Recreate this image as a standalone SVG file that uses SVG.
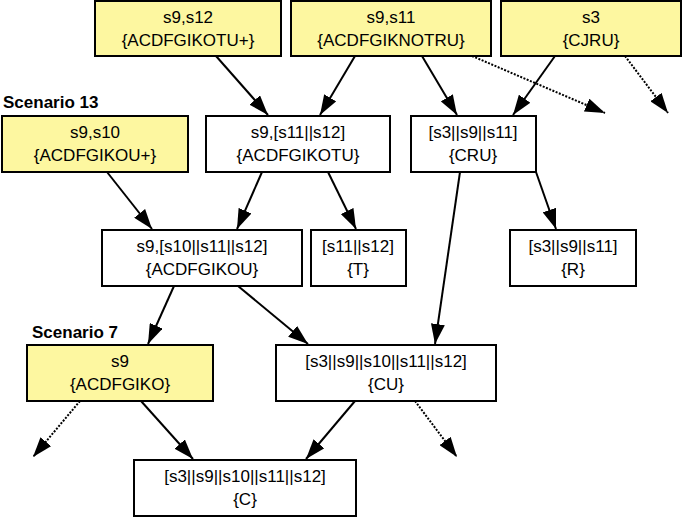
<svg xmlns="http://www.w3.org/2000/svg" width="684" height="518" viewBox="0 0 684 518">
<style>
.n{fill:#fff;stroke:#000;stroke-width:2}
.y{fill:#fdf7a0;stroke:#000;stroke-width:2}
text{font-family:"Liberation Sans",Arial,sans-serif;font-size:17px;text-anchor:middle}
.lb{font-weight:bold;text-anchor:start}
.e{stroke:#000;stroke-width:2;fill:none;marker-end:url(#a)}
.d{stroke-dasharray:2,1.5}
</style>
<defs><marker id="a" viewBox="0 0 10 10" refX="10" refY="5" markerWidth="10" markerHeight="10" markerUnits="userSpaceOnUse" orient="auto"><path d="M0,0 L10,5 L0,10z" transform="scale(1)"/></marker>
<marker id="b" viewBox="0 0 20 14" refX="20" refY="7" markerWidth="20" markerHeight="14" markerUnits="userSpaceOnUse" orient="auto"><path d="M0,0 L20,7 L0,14z"/></marker></defs>
<style>.e{marker-end:url(#b)}</style>
<text class="lb" x="3" y="108">Scenario 13</text>
<text class="lb" x="32" y="338">Scenario 7</text>
<g id="n1"><rect class="y" x="95" y="1" width="186" height="55"/><text x="188" y="23">s9,s12</text><text x="188" y="46">{ACDFGIKOTU+}</text></g>
<g id="n2"><rect class="y" x="291" y="1" width="200" height="55"/><text x="391" y="23">s9,s11</text><text x="391" y="46">{ACDFGIKNOTRU}</text></g>
<g id="n3"><rect class="y" x="501" y="1" width="180" height="55"/><text x="591" y="23">s3</text><text x="591" y="46">{CJRU}</text></g>
<g id="n4"><rect class="y" x="2" y="116" width="186" height="56"/><text x="95" y="138">s9,s10</text><text x="95" y="161">{ACDFGIKOU+}</text></g>
<g id="n5"><rect class="n" x="206" y="116" width="184" height="56"/><text x="298" y="138">s9,[s11||s12]</text><text x="298" y="161">{ACDFGIKOTU}</text></g>
<g id="n6"><rect class="n" x="411" y="116" width="125" height="56"/><text x="473" y="138">[s3||s9||s11]</text><text x="473" y="161">{CRU}</text></g>
<g id="n7"><rect class="n" x="102" y="230" width="200" height="56"/><text x="202" y="252">s9,[s10||s11||s12]</text><text x="202" y="275">{ACDFGIKOU}</text></g>
<g id="n8"><rect class="n" x="311" y="230" width="95" height="56"/><text x="358" y="252">[s11||s12]</text><text x="358" y="275">{T}</text></g>
<g id="n9"><rect class="n" x="510" y="230" width="126" height="56"/><text x="573" y="252">[s3||s9||s11]</text><text x="573" y="275">{R}</text></g>
<g id="n10"><rect class="y" x="27" y="345" width="186" height="56"/><text x="120" y="367">s9</text><text x="120" y="390">{ACDFGIKO}</text></g>
<g id="n11"><rect class="n" x="276" y="345" width="220" height="56"/><text x="386" y="367">[s3||s9||s10||s11||s12]</text><text x="386" y="390">{CU}</text></g>
<g id="n12"><rect class="n" x="134" y="460" width="222" height="56"/><text x="245" y="482">[s3||s9||s10||s11||s12]</text><text x="245" y="505">{C}</text></g>
<g id="edges">
<line class="e" x1="216" y1="56" x2="268" y2="115"/>
<line class="e" x1="355" y1="56" x2="320" y2="115"/>
<line class="e" x1="422" y1="56" x2="457" y2="115"/>
<line class="e" x1="555" y1="56" x2="513" y2="115"/>
<line class="e d" x1="472" y1="56" x2="605" y2="113"/>
<line class="e d" x1="625" y1="56" x2="668" y2="113"/>
<line class="e" x1="107" y1="172" x2="152" y2="229"/>
<line class="e" x1="262" y1="172" x2="237" y2="229"/>
<line class="e" x1="328" y1="172" x2="356" y2="229"/>
<line class="e" x1="460" y1="172" x2="435" y2="344"/>
<line class="e" x1="536" y1="172" x2="556" y2="229"/>
<line class="e" x1="174" y1="286" x2="148" y2="344"/>
<line class="e" x1="238" y1="286" x2="308" y2="344"/>
<line class="e d" x1="80" y1="401" x2="33" y2="457"/>
<line class="e" x1="141" y1="401" x2="193" y2="459"/>
<line class="e" x1="355" y1="401" x2="306" y2="459"/>
<line class="e d" x1="415" y1="401" x2="457" y2="457"/>
</g>
</svg>
